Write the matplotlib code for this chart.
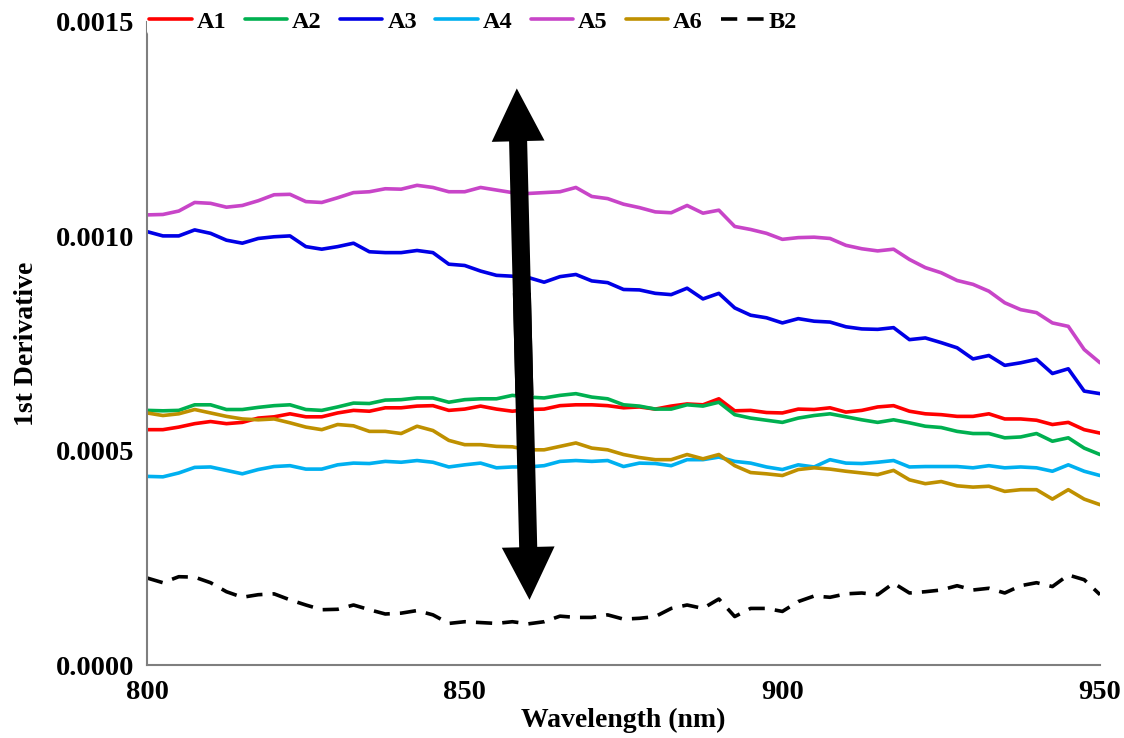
"""First derivative spectra, 800-950 nm"""

import numpy as np
import matplotlib
matplotlib.use("Agg")
import matplotlib.pyplot as plt
from matplotlib.patches import FancyArrowPatch
from matplotlib.ticker import FormatStrFormatter

plt.rcParams['font.family'] = ['Liberation Serif', 'DejaVu Serif']
plt.rcParams['font.weight'] = 'bold'

# Wavelength grid (nm)
wavelength = np.arange(800, 950.01, 2.5)

# 1st derivative values, in units of 1e-4
A1 = [5.49, 5.49, 5.55, 5.63, 5.68, 5.63, 5.66, 5.76, 5.79, 5.86,
      5.79, 5.79, 5.88, 5.94, 5.92, 6.00, 6.00, 6.04, 6.05, 5.94,
      5.97, 6.04, 5.97, 5.92, 5.96, 5.97, 6.05, 6.07, 6.07, 6.05,
      6.00, 6.02, 5.97, 6.04, 6.09, 6.07, 6.21, 5.93, 5.94, 5.89,
      5.88, 5.97, 5.96, 6.00, 5.90, 5.94, 6.02, 6.05, 5.92, 5.86,
      5.84, 5.80, 5.80, 5.86, 5.74, 5.74, 5.71, 5.61, 5.66, 5.49,
      5.41]
A2 = [5.94, 5.93, 5.94, 6.07, 6.07, 5.96, 5.96, 6.01, 6.05, 6.07,
      5.96, 5.94, 6.02, 6.11, 6.10, 6.18, 6.19, 6.23, 6.23, 6.13,
      6.19, 6.21, 6.21, 6.29, 6.25, 6.23, 6.29, 6.33, 6.25, 6.21,
      6.07, 6.04, 5.97, 5.97, 6.07, 6.04, 6.13, 5.84, 5.76, 5.71,
      5.66, 5.76, 5.82, 5.86, 5.79, 5.72, 5.66, 5.72, 5.65, 5.57,
      5.54, 5.45, 5.40, 5.40, 5.30, 5.32, 5.40, 5.22, 5.30, 5.06,
      4.91]
A3 = [10.11, 10.01, 10.01, 10.15, 10.07, 9.91, 9.84, 9.95, 9.99, 10.01,
      9.76, 9.70, 9.76, 9.84, 9.64, 9.62, 9.62, 9.67, 9.62, 9.35,
      9.32, 9.19, 9.09, 9.07, 9.04, 8.93, 9.06, 9.11, 8.96, 8.92,
      8.76, 8.75, 8.67, 8.64, 8.79, 8.54, 8.67, 8.33, 8.16, 8.10,
      7.98, 8.08, 8.02, 8.00, 7.89, 7.84, 7.83, 7.87, 7.59, 7.63,
      7.52, 7.40, 7.14, 7.22, 6.99, 7.05, 7.13, 6.80, 6.91, 6.39,
      6.33]
A4 = [4.40, 4.39, 4.48, 4.61, 4.62, 4.54, 4.46, 4.56, 4.63, 4.65,
      4.57, 4.57, 4.67, 4.71, 4.70, 4.75, 4.73, 4.77, 4.73, 4.62,
      4.67, 4.71, 4.60, 4.62, 4.62, 4.65, 4.75, 4.77, 4.75, 4.77,
      4.63, 4.71, 4.70, 4.65, 4.79, 4.79, 4.85, 4.75, 4.71, 4.62,
      4.56, 4.67, 4.62, 4.79, 4.71, 4.70, 4.73, 4.77, 4.62, 4.63,
      4.63, 4.63, 4.60, 4.65, 4.60, 4.62, 4.60, 4.52, 4.67, 4.52,
      4.42]
A5 = [10.50, 10.51, 10.59, 10.79, 10.77, 10.68, 10.72, 10.83, 10.97, 10.98,
      10.81, 10.79, 10.90, 11.02, 11.04, 11.11, 11.10, 11.19, 11.14, 11.04,
      11.04, 11.14, 11.08, 11.02, 11.00, 11.02, 11.04, 11.14, 10.93, 10.88,
      10.75, 10.67, 10.57, 10.55, 10.72, 10.54, 10.61, 10.23, 10.16, 10.07,
      9.93, 9.97, 9.98, 9.95, 9.79, 9.71, 9.66, 9.70, 9.46, 9.27,
      9.15, 8.97, 8.88, 8.72, 8.45, 8.29, 8.22, 7.98, 7.90, 7.36,
      7.05]
A6 = [5.88, 5.82, 5.86, 5.96, 5.88, 5.80, 5.74, 5.72, 5.74, 5.65,
      5.55, 5.49, 5.61, 5.58, 5.45, 5.45, 5.40, 5.57, 5.47, 5.24,
      5.14, 5.14, 5.10, 5.09, 5.02, 5.02, 5.10, 5.18, 5.06, 5.02,
      4.91, 4.84, 4.79, 4.79, 4.91, 4.81, 4.91, 4.65, 4.49, 4.46,
      4.42, 4.56, 4.60, 4.57, 4.52, 4.48, 4.44, 4.54, 4.32, 4.23,
      4.28, 4.18, 4.15, 4.17, 4.05, 4.09, 4.09, 3.87, 4.09, 3.87,
      3.74]
B2 = [2.03, 1.92, 2.06, 2.05, 1.92, 1.71, 1.58, 1.64, 1.66, 1.52,
      1.40, 1.29, 1.30, 1.40, 1.29, 1.19, 1.21, 1.27, 1.17, 0.97,
      1.01, 0.99, 0.97, 1.01, 0.96, 1.01, 1.14, 1.11, 1.11, 1.17,
      1.07, 1.09, 1.13, 1.32, 1.40, 1.32, 1.54, 1.13, 1.32, 1.32,
      1.25, 1.48, 1.61, 1.58, 1.66, 1.68, 1.64, 1.91, 1.68, 1.71,
      1.75, 1.85, 1.75, 1.79, 1.68, 1.85, 1.92, 1.83, 2.10, 1.99,
      1.64]

labels = ["A1", "A2", "A3", "A4", "A5", "A6", "B2"]
colors = ["#FF0000", "#00B050", "#0000E6", "#00B0F0", "#C845C8", "#BF9000", "#000000"]
series = [A1, A2, A3, A4, A5, A6, B2]

# Double arrow marking the spread between samples
arrow_top = (858.2, 13.45e-4)
arrow_bottom = (860.2, 1.52e-4)

fig = plt.figure(figsize=(11.24, 7.38), dpi=100)
ax = fig.add_axes([0.1308, 0.0989, 0.8479, 0.8713])

for vals, lab, col in zip(series, labels, colors):
    y = np.array(vals) * 1e-4
    if lab == "B2":
        ax.plot(wavelength, y, color=col, lw=2.6, ls=(0, (4.5, 2.8)), label=lab)
    else:
        ax.plot(wavelength, y, color=col, lw=2.6, label=lab,
                solid_joinstyle='round', solid_capstyle='round')


def along(frac):
    # point on the bottom->top arrow axis
    return (arrow_bottom[0] + frac * (arrow_top[0] - arrow_bottom[0]),
            arrow_bottom[1] + frac * (arrow_top[1] - arrow_bottom[1]))


# two single-headed arrows whose tails overlap in the middle
style = "simple,head_length=38,head_width=38,tail_width=13"
for start, tip in ((along(0.4), arrow_top), (along(0.6), arrow_bottom)):
    arr = FancyArrowPatch(start, tip, arrowstyle=style, mutation_scale=1,
                          color='black', lw=0, shrinkA=0, shrinkB=0, zorder=5)
    ax.add_patch(arr)

ax.set_xlim(800, 950)
ax.set_ylim(0, 0.0015)
ax.set_xticks([800, 850, 900, 950])
ax.set_yticks([0, 0.0005, 0.0010, 0.0015])
ax.yaxis.set_major_formatter(FormatStrFormatter('%.4f'))
ax.tick_params(length=0, labelsize=20.5, pad=9)
ax.tick_params(axis='x', pad=11)

for side in ('top', 'right'):
    ax.spines[side].set_visible(False)
for side in ('left', 'bottom'):
    ax.spines[side].set_color('#7f7f7f')
    ax.spines[side].set_linewidth(1.5)

ax.set_xlabel("Wavelength (nm)", fontsize=20, fontweight='bold', labelpad=2)
ax.set_ylabel("1st Derivative", fontsize=20, fontweight='bold', labelpad=12)

leg = ax.legend(loc='center left', bbox_to_anchor=(0.0, 1.0), ncol=7, fontsize=17.5,
                frameon=True, edgecolor='none', facecolor='white', framealpha=1,
                borderpad=0.1, borderaxespad=0, handlelength=1.75,
                handletextpad=0.2, columnspacing=0.75)

fig.savefig("out.png", dpi=100)
